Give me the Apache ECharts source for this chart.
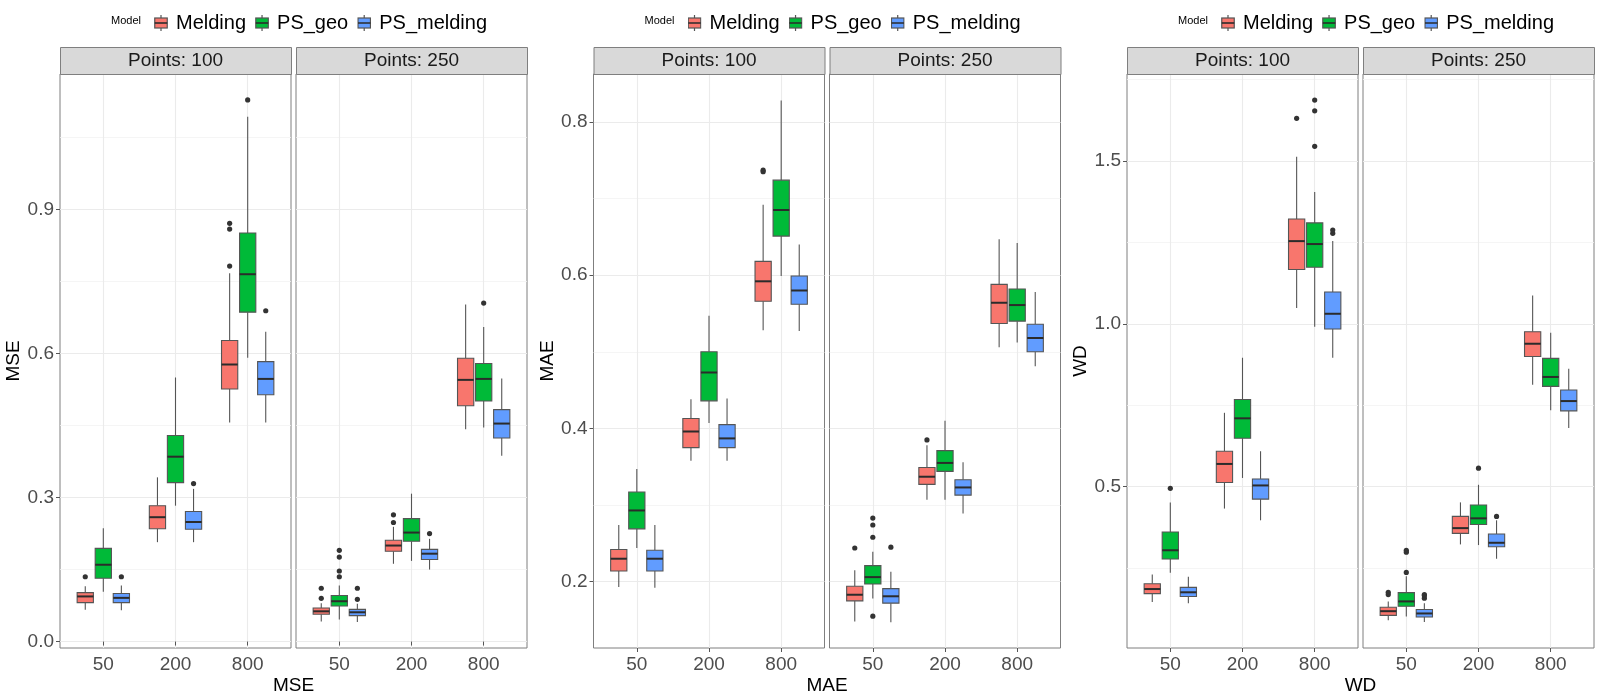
<!DOCTYPE html>
<html>
<head>
<meta charset="utf-8">
<script src="https://cdn.jsdelivr.net/npm/echarts@6/dist/echarts.min.js"></script>
<style>html,body{margin:0;padding:0;background:#fff}#c{width:1600px;height:700px}</style>
</head>
<body>
<div id="c"></div>
<script>
// ---------------- data ----------------
const xLabels = ['50', '200', '800'];
const models = ['Melding', 'PS_geo', 'PS_melding'];
const facetTitles = ['Points: 100', 'Points: 250'];
const metricNames = ['MSE', 'MAE', 'WD'];

const mseTicks = [0, 0.3, 0.6, 0.9];
const mseMinor = [0.15, 0.45, 0.75, 1.05];
const maeTicks = [0.2, 0.4, 0.6, 0.8];
const maeMinor = [0.3, 0.5, 0.7];
const wdTicks = [0.5, 1.0, 1.5];
const wdMinor = [0.25, 0.75, 1.25, 1.75];

// each row: [lower whisker, Q1, median, Q3, upper whisker] for n = 50, 200, 800
const mseP100Melding = [[0.066,0.081,0.094,0.102,0.115],[0.207,0.235,0.259,0.283,0.342],[0.456,0.526,0.577,0.627,0.767]];
const mseP100PSgeo = [[0.104,0.132,0.160,0.194,0.236],[0.283,0.331,0.385,0.429,0.550],[0.591,0.686,0.765,0.851,1.093]];
const mseP100PSmelding = [[0.065,0.081,0.091,0.100,0.117],[0.207,0.234,0.249,0.271,0.318],[0.456,0.514,0.547,0.583,0.645]];
const mseP250Melding = [[0.042,0.057,0.063,0.070,0.080],[0.162,0.188,0.200,0.211,0.239],[0.442,0.491,0.545,0.590,0.702]];
const mseP250PSgeo = [[0.046,0.074,0.084,0.096,0.117],[0.168,0.209,0.227,0.256,0.308],[0.446,0.501,0.547,0.579,0.655]];
const mseP250PSmelding = [[0.041,0.054,0.061,0.067,0.079],[0.150,0.171,0.183,0.192,0.214],[0.387,0.424,0.454,0.483,0.548]];

const maeP100Melding = [[0.193,0.214,0.230,0.242,0.274],[0.358,0.375,0.396,0.413,0.438],[0.528,0.566,0.592,0.618,0.692]];
const maeP100PSgeo = [[0.244,0.269,0.293,0.317,0.347],[0.407,0.436,0.473,0.500,0.547],[0.599,0.651,0.685,0.724,0.828]];
const maeP100PSmelding = [[0.192,0.214,0.230,0.241,0.274],[0.358,0.375,0.387,0.405,0.439],[0.527,0.562,0.580,0.599,0.640]];
const maeP250Melding = [[0.148,0.175,0.183,0.194,0.215],[0.307,0.327,0.337,0.349,0.378],[0.506,0.537,0.564,0.588,0.647]];
const maeP250PSgeo = [[0.178,0.197,0.206,0.221,0.239],[0.307,0.344,0.355,0.371,0.410],[0.512,0.540,0.561,0.582,0.642]];
const maeP250PSmelding = [[0.147,0.172,0.181,0.191,0.213],[0.289,0.313,0.323,0.333,0.356],[0.481,0.500,0.518,0.536,0.578]];

const wdP100Melding = [[0.146,0.172,0.186,0.202,0.231],[0.433,0.513,0.570,0.609,0.727],[1.049,1.167,1.254,1.322,1.513]];
const wdP100PSgeo = [[0.236,0.278,0.305,0.361,0.452],[0.527,0.649,0.710,0.768,0.896],[0.991,1.174,1.245,1.310,1.405]];
const wdP100PSmelding = [[0.142,0.163,0.176,0.191,0.224],[0.397,0.462,0.504,0.524,0.609],[0.896,0.984,1.031,1.098,1.254]];
const wdP250Melding = [[0.090,0.105,0.118,0.130,0.148],[0.323,0.357,0.373,0.409,0.452],[0.813,0.900,0.939,0.976,1.087]];
const wdP250PSgeo = [[0.102,0.133,0.148,0.175,0.225],[0.321,0.384,0.403,0.444,0.506],[0.735,0.808,0.837,0.894,0.973]];
const wdP250PSmelding = [[0.085,0.100,0.111,0.123,0.142],[0.279,0.316,0.328,0.355,0.397],[0.680,0.733,0.763,0.797,0.862]];

// outliers for n = 50, 200, 800
const mseP100MeldingOut = [[0.135],[],[0.782,0.859,0.871]];
const mseP100PSgeoOut = [[],[],[1.128]];
const mseP100PSmeldingOut = [[0.135],[0.329],[0.689]];
const mseP250MeldingOut = [[0.090,0.111],[0.248,0.264],[]];
const mseP250PSgeoOut = [[0.135,0.147,0.176,0.190],[],[0.705]];
const mseP250PSmeldingOut = [[0.088,0.111],[0.225],[]];

const maeP100MeldingOut = [[],[],[0.735,0.737]];
const maeP100PSgeoOut = [[],[],[]];
const maeP100PSmeldingOut = [[],[],[]];
const maeP250MeldingOut = [[0.244],[0.385],[]];
const maeP250PSgeoOut = [[0.155,0.258,0.274,0.283],[],[]];
const maeP250PSmeldingOut = [[0.245],[],[]];

const wdP100MeldingOut = [[],[],[1.631]];
const wdP100PSgeoOut = [[0.495],[],[1.545,1.654,1.687]];
const wdP100PSmeldingOut = [[],[],[1.278,1.288]];
const wdP250MeldingOut = [[0.169,0.176],[],[]];
const wdP250PSgeoOut = [[0.237,0.299,0.305],[0.557],[]];
const wdP250PSmeldingOut = [[0.158,0.166,0.169],[0.409],[]];

// ---------------- tables built from the arrays ----------------
const metricTable = [
  { name: metricNames[0], min: -0.0134, max: 1.182, ticks: mseTicks, minor: mseMinor,
    boxes: [[mseP100Melding, mseP100PSgeo, mseP100PSmelding], [mseP250Melding, mseP250PSgeo, mseP250PSmelding]],
    outs: [[mseP100MeldingOut, mseP100PSgeoOut, mseP100PSmeldingOut], [mseP250MeldingOut, mseP250PSgeoOut, mseP250PSmeldingOut]] },
  { name: metricNames[1], min: 0.1135, max: 0.8625, ticks: maeTicks, minor: maeMinor,
    boxes: [[maeP100Melding, maeP100PSgeo, maeP100PSmelding], [maeP250Melding, maeP250PSgeo, maeP250PSmelding]],
    outs: [[maeP100MeldingOut, maeP100PSgeoOut, maeP100PSmeldingOut], [maeP250MeldingOut, maeP250PSgeoOut, maeP250PSmeldingOut]] },
  { name: metricNames[2], min: 0.005, max: 1.767, ticks: wdTicks, minor: wdMinor,
    boxes: [[wdP100Melding, wdP100PSgeo, wdP100PSmelding], [wdP250Melding, wdP250PSgeo, wdP250PSmelding]],
    outs: [[wdP100MeldingOut, wdP100PSgeoOut, wdP100PSmeldingOut], [wdP250MeldingOut, wdP250PSgeoOut, wdP250PSmeldingOut]] }
];

// ---------------- styling / layout ----------------
const FONT = '"Liberation Sans", Arial, Helvetica, sans-serif';
const colors = ['#F8766D', '#00BA38', '#619CFF'];
const dodge = [-0.25, 0, 0.25];
const boxW = 0.225;
const panelLeft0 = 60, panelStep = 533.5, facetW = 231, facetGap = 5;
const gridTop = 74, gridH = 574, stripH = 27;
const borderCol = '#7f7f7f';

function makeBox(m) {
  return function (params, api) {
    const x = api.value(0);
    const unit = api.size([1, 0])[0];
    const cx = api.coord([x, api.value(3)])[0] + dodge[m] * unit;
    const hw = boxW / 2 * unit;
    const yL = api.coord([x, api.value(1)])[1];
    const yQ1 = api.coord([x, api.value(2)])[1];
    const yMd = api.coord([x, api.value(3)])[1];
    const yQ3 = api.coord([x, api.value(4)])[1];
    const yH = api.coord([x, api.value(5)])[1];
    const ws = { stroke: '#555555', lineWidth: 1.1 };
    return {
      type: 'group',
      children: [
        { type: 'line', shape: { x1: cx, y1: yH, x2: cx, y2: yQ3 }, style: ws },
        { type: 'line', shape: { x1: cx, y1: yQ1, x2: cx, y2: yL }, style: ws },
        { type: 'rect', shape: { x: cx - hw, y: yQ3, width: 2 * hw, height: yQ1 - yQ3 },
          style: { fill: colors[m], stroke: '#555555', lineWidth: 1.1 } },
        { type: 'line', shape: { x1: cx - hw, y1: yMd, x2: cx + hw, y2: yMd },
          style: { stroke: '#2b2b2b', lineWidth: 2 } }
      ]
    };
  };
}
function makeOut(m) {
  return function (params, api) {
    const x = api.value(0);
    const unit = api.size([1, 0])[0];
    const p = api.coord([x, api.value(1)]);
    return { type: 'circle', shape: { cx: p[0] + dodge[m] * unit, cy: p[1], r: 2.6 },
      style: { fill: '#333333' } };
  };
}
function legendIcon(m) {
  const svg = "<svg xmlns='http://www.w3.org/2000/svg' width='14' height='16'>" +
    "<line x1='7' y1='0' x2='7' y2='16' stroke='#555' stroke-width='1.2'/>" +
    "<rect x='0.75' y='3' width='12.5' height='10' fill='" + colors[m] + "' stroke='#555' stroke-width='1.2'/>" +
    "<line x1='0.75' y1='8' x2='13.25' y2='8' stroke='#2b2b2b' stroke-width='1.6'/></svg>";
  return 'image://data:image/svg+xml;charset=utf-8,' + encodeURIComponent(svg);
}

const grids = [], xAxes = [], yAxes = [], minorYAxes = [], series = [], graphics = [], legends = [];

metricTable.forEach(function (mt, p) {
  const L = panelLeft0 + p * panelStep;
  for (let f = 0; f < 2; f++) {
    const g = p * 2 + f;
    const left = L + f * (facetW + facetGap);
    grids.push({ left: left, top: gridTop, width: facetW, height: gridH, show: true,
      backgroundColor: '#ffffff', borderColor: borderCol, borderWidth: 1 });
    xAxes.push({
      gridIndex: g, type: 'value', min: 0.4, max: 3.6,
      axisLine: { show: false },
      axisTick: { show: true, length: 4, customValues: [1, 2, 3], lineStyle: { color: '#555555' } },
      axisLabel: { customValues: [1, 2, 3], formatter: function (v) { return xLabels[Math.round(v) - 1]; },
        fontSize: 19, color: '#4D4D4D', margin: 7, fontFamily: FONT },
      splitLine: { show: true, lineStyle: { color: '#EBEBEB', width: 1.1 } }
    });
    yAxes.push({
      gridIndex: g, type: 'value', min: mt.min, max: mt.max, position: 'left',
      axisLine: { show: false },
      axisTick: { show: f === 0, length: 4, customValues: mt.ticks, lineStyle: { color: '#555555' } },
      axisLabel: { show: f === 0, customValues: mt.ticks, formatter: function (v) { return v.toFixed(1); },
        fontSize: 19, color: '#4D4D4D', margin: 6, fontFamily: FONT },
      splitLine: { show: true, lineStyle: { color: '#EBEBEB', width: 1.1 } },
      name: f === 0 ? mt.name : '', nameLocation: 'middle', nameGap: 36,
      nameTextStyle: { fontSize: 19, color: '#000000', fontFamily: FONT }
    });
    minorYAxes.push({
      gridIndex: g, type: 'value', min: mt.min, max: mt.max, position: 'left',
      axisLine: { show: false },
      axisTick: { show: false, customValues: mt.minor },
      axisLabel: { show: false, customValues: mt.minor },
      splitLine: { show: true, lineStyle: { color: '#F3F3F3', width: 0.8 } }
    });
    // strip
    graphics.push({ type: 'rect', left: left, top: gridTop - stripH, shape: { width: facetW, height: stripH },
      style: { fill: '#D9D9D9', stroke: borderCol, lineWidth: 1 }, z: 10 });
    graphics.push({ type: 'text', x: left + facetW / 2, y: gridTop - stripH / 2,
      style: { text: facetTitles[f], fontSize: 19, fill: '#1A1A1A', fontFamily: FONT, align: 'center', verticalAlign: 'middle' }, z: 11 });

    for (let m = 0; m < 3; m++) {
      const boxes = mt.boxes[f][m];
      series.push({
        type: 'custom', name: models[m], xAxisIndex: g, yAxisIndex: g,
        renderItem: makeBox(m),
        encode: { x: 0, y: [1, 2, 3, 4, 5] },
        data: boxes.map(function (b, i) { return [i + 1].concat(b); }),
        z: 3, silent: true
      });
      const pts = [];
      mt.outs[f][m].forEach(function (arr, i) { arr.forEach(function (v) { pts.push([i + 1, v]); }); });
      series.push({
        type: 'custom', name: models[m], xAxisIndex: g, yAxisIndex: g,
        renderItem: makeOut(m), encode: { x: 0, y: 1 }, data: pts, z: 4, silent: true
      });
    }
  }
  // x-axis title
  graphics.push({ type: 'text', x: L + (2 * facetW + facetGap) / 2, y: 686,
    style: { text: mt.name, fontSize: 19, fill: '#000000', fontFamily: FONT, align: 'center', verticalAlign: 'middle' } });
  // legend title
  graphics.push({ type: 'text', x: L + 81, y: 21,
    style: { text: 'Model', fontSize: 11, fill: '#000000', fontFamily: FONT, align: 'right', verticalAlign: 'middle' } });
  legends.push({
    left: L + 89, top: 8, itemWidth: 14, itemHeight: 16, itemGap: 9, selectedMode: false,
    textStyle: { fontSize: 20, color: '#000000', fontFamily: FONT, padding: [0, 0, 0, 3] },
    data: models.map(function (name, m) { return { name: name, icon: legendIcon(m) }; })
  });
});

// yAxes 0..5 major, 6..11 minor gridlines
const chart = echarts.init(document.getElementById('c'), null, { renderer: 'canvas' });
chart.setOption({
  animation: false,
  backgroundColor: '#ffffff',
  textStyle: { fontFamily: FONT },
  grid: grids,
  xAxis: xAxes,
  yAxis: yAxes.concat(minorYAxes),
  legend: legends,
  graphic: graphics,
  series: series
});
</script>
</body>
</html>
